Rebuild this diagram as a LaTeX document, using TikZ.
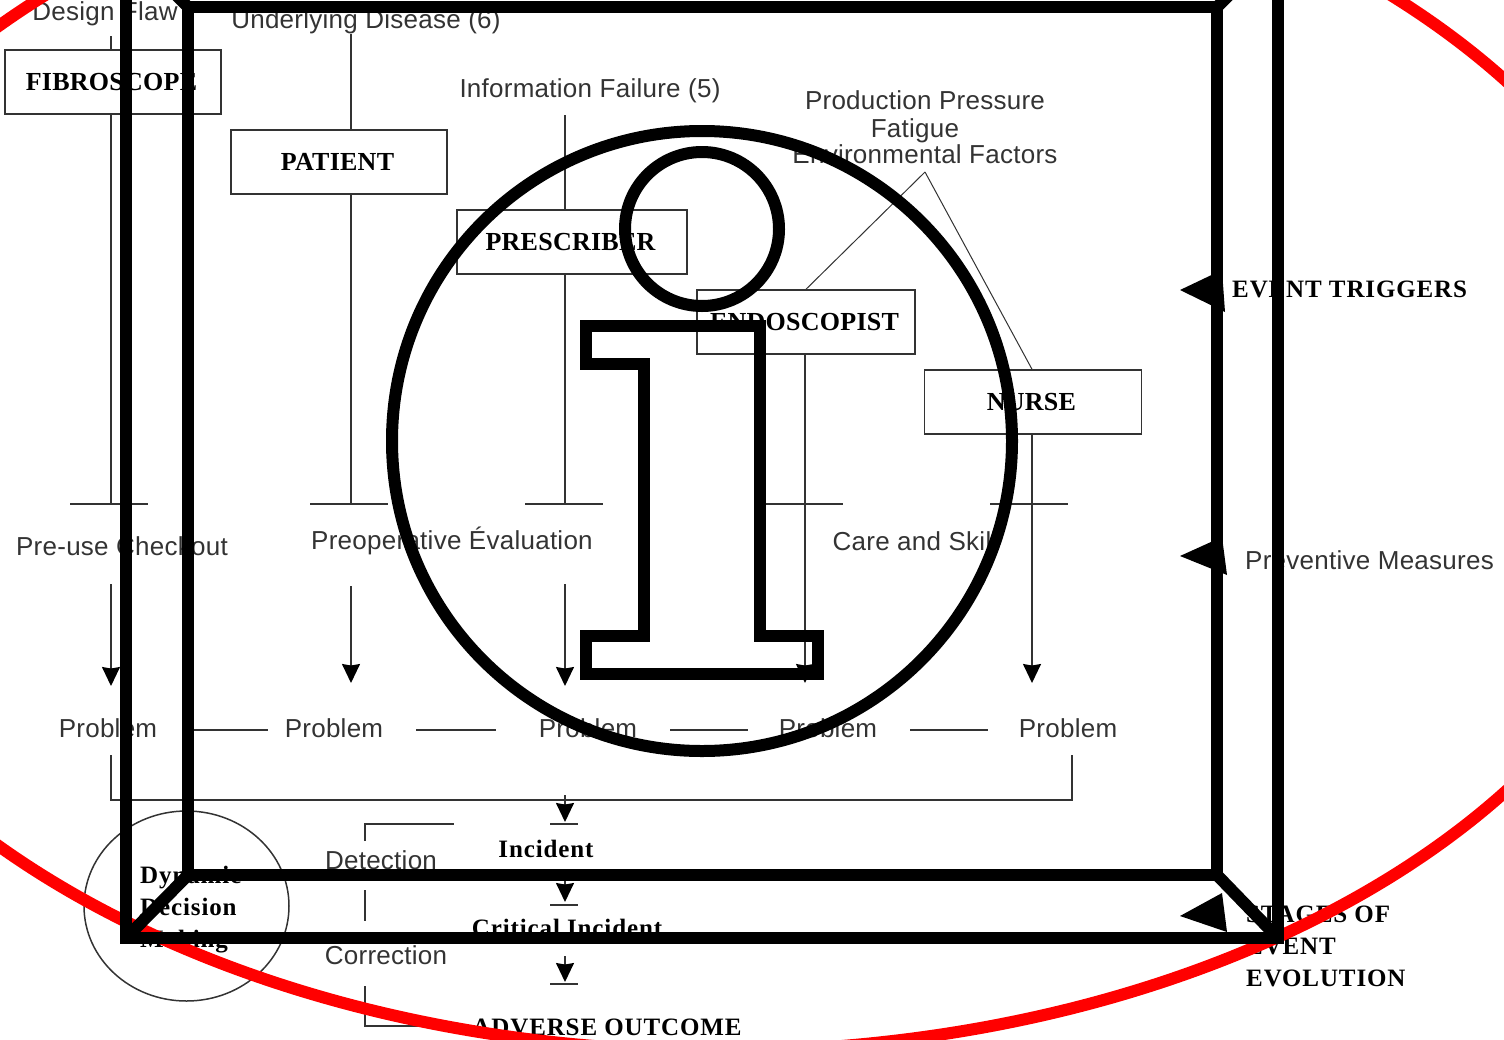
\documentclass[tikz,border=0pt]{standalone}
\usepackage{fontspec}
\setmainfont{Liberation Serif}
\newfontfamily\labelfont[LetterSpace=1]{Liberation Sans}
\newfontfamily\boxfont[LetterSpace=1,BoldFont={Liberation Serif Bold}]{Liberation Serif}
\newfontfamily\stagefont[LetterSpace=3.5,BoldFont={Liberation Serif Bold}]{Liberation Serif}
\usetikzlibrary{arrows.meta,shapes.geometric}
\definecolor{thinink}{gray}{0.2}
\tikzset{
  thin line/.style={draw=thinink, line width=1.5pt},
  stage box/.style={draw=thinink, line width=1.5pt, minimum width=#1, minimum height=64pt, inner sep=0pt, font=\boxfont\fontsize{26}{26}\selectfont\bfseries, execute at end node=\hspace{3pt}},
  plain label/.style={font=\labelfont\fontsize{26}{26}\selectfont, text=thinink, inner sep=0pt},
  bold label/.style={font=\stagefont\fontsize{25}{32}\selectfont\bfseries, inner sep=0pt},
  drop/.style={thin line, -{Stealth[length=19pt,width=18pt,inset=1.5pt,color=black]}},
  big tip/.style={fill=black},
  icon line/.style={line width=12pt, draw=black, miter limit=4},
}
\begin{document}
\begin{tikzpicture}[x=1pt,y=-1pt]
\useasboundingbox (0,0) rectangle (1504,1039);
\clip (0,0) rectangle (1504,1039);

% =========================
% stage boxes
% =========================
\node[stage box=216pt] (fibroscope) at (113,82) {FIBROSCOPE};
\node[stage box=216pt] (patient) at (339,162) {PATIENT};
\node[stage box=230pt] (prescriber) at (572,242) {PRESCRIBER};
\node[stage box=218pt] (endoscopist) at (806,322) {ENDOSCOPIST};
\node[stage box=217pt] (nurse) at (1033,402) {NURSE};

% =========================
% top labels
% =========================
\node[plain label] (flaw) at (105,14) {Design Flaw};
\node[plain label] (disease) at (366,22) {Underlying Disease (6)};
\node[plain label] (failure) at (590,91) {Information Failure (5)};
\node[plain label] (pressure) at (925,100) {Production Pressure};
\node[plain label] (fatigue) at (915,131) {Fatigue};
\node[plain label] (factors) at (925,154) {Environmental Factors};

% =========================
% lines down to the ticks
% =========================
\coordinate (tick a) at (111,504);
\coordinate (tick b) at (351,504);
\coordinate (tick c) at (565,504);
\coordinate (tick d) at (805,504);
\coordinate (tick e) at (1032,504);
\coordinate (flaw end) at (111,36);
\coordinate (disease end) at (351,34);
\coordinate (failure end) at (565,115);
\coordinate (apex) at (925,172);

\draw[thin line] (flaw end) -- (flaw end |- fibroscope.north);
\draw[thin line] (disease end) -- (disease end |- patient.north);
\draw[thin line] (failure end) -- (failure end |- prescriber.north);
\draw[thin line] (fibroscope.south -| tick a) -- (tick a);
\draw[thin line] (patient.south -| tick b) -- (tick b);
\draw[thin line] (prescriber.south -| tick c) -- (tick c);
\draw[thin line] (endoscopist.south -| tick d) -- (tick d);
\draw[thin line] (nurse.south -| tick e) -- (tick e);
\draw[thin line, line width=1pt] (apex) -- (endoscopist.north);
\draw[thin line, line width=1pt] (apex) -- (nurse.north -| tick e);

% ticks
\draw[thin line] (70,504) -- (148,504);
\draw[thin line] (310,504) -- (388,504);
\draw[thin line] (525,504) -- (603,504);
\draw[thin line] (765,504) -- (843,504);
\draw[thin line] (990,504) -- (1068,504);

% =========================
% measures and problems
% =========================
\node[plain label] (checkout) at (122,546) {Pre-use Checkout};
\node[plain label] (evaluation) at (452,541) {Preoperative Évaluation};
\node[plain label] (skill) at (915,541) {Care and Skill};

\node[plain label] (problem a) at (108,728) {Problem};
\node[plain label] (problem b) at (334,728) {Problem};
\node[plain label] (problem c) at (588,728) {Problem};
\node[plain label] (problem d) at (828,728) {Problem};
\node[plain label] (problem e) at (1068,728) {Problem};

\draw[drop] (111,584) -- (111,686);
\draw[drop] (351,586) -- (351,683);
\draw[drop] (565,584) -- (565,686);
\draw[drop] (805,504) -- (805,683);
\draw[drop] (1032,504) -- (1032,683);

\draw[thin line] (193,730) -- (268,730);
\draw[thin line] (416,730) -- (496,730);
\draw[thin line] (670,730) -- (748,730);
\draw[thin line] (910,730) -- (988,730);

% collector
\draw[thin line] (111,755) -- (111,800) -- (1072,800) -- (1072,755);

% =========================
% event stages
% =========================
\node[bold label] (incident) at (546,849) {Incident};
\node[bold label] (critical) at (567,928) {Critical Incident};
\node[bold label] (outcome) at (607,1027) {ADVERSE OUTCOME};

\draw[drop] (565,795) -- (565,822);
\draw[drop] (565,876) -- (565,902);
\draw[drop] (565,956) -- (565,982);
\draw[thin line] (550,824) -- (578,824);
\draw[thin line] (550,905) -- (578,905);
\draw[thin line] (550,984) -- (578,984);

\node[plain label] (detection) at (381,860) {Detection};
\node[plain label] (correction) at (386,955) {Correction};
\draw[thin line] (365,841) -- (365,824) -- (454,824);
\draw[thin line] (365,890) -- (365,921);
\draw[thin line] (365,986) -- (365,1026) -- (470,1026);

\node[thin line, ellipse, minimum width=205pt, minimum height=190pt, inner sep=0pt] (loop) at (186.5,906) {};
\node[bold label, anchor=west, align=left] (dynamic) at (140,910) {Dynamic\\Decision\\Making};

% =========================
% right column
% =========================
\node[bold label, anchor=west] (triggers) at (1232,289) {EVENT TRIGGERS};
\node[plain label, anchor=west] (measures) at (1245,560) {Preventive Measures};
\node[bold label, anchor=west, align=left] (stages) at (1246,946) {STAGES OF\\EVENT\\EVOLUTION};

\fill[big tip] (1180,290) -- (1222,270) -- (1225,312) -- cycle;
\fill[big tip] (1180,556) -- (1222,537) -- (1227,575) -- cycle;
\fill[big tip] (1180,916) -- (1222,893) -- (1227,932) -- cycle;

% =========================
% red ring
% =========================
\draw[red, line width=12pt] (718,436) ellipse (965 and 615);

% =========================
% black box
% =========================
\draw[icon line] (126,-20) -- (126,938) -- (1278,938) -- (1278,-20);
\draw[icon line] (188,7) rectangle (1217,875);
\draw[icon line] (188,875) -- (126,938);
\draw[icon line] (1217,875) -- (1278,938);
\draw[icon line] (188,7) -- (170,-11);
\draw[icon line] (1217,7) -- (1235,-11);

% =========================
% info sign
% =========================
\draw[icon line] (702,441) circle (310);
\draw[icon line] (702,229) circle (77);
\draw[icon line] (586,326) -- (760,326) -- (760,636) -- (818,636) -- (818,674) -- (586,674)
  -- (586,636) -- (644,636) -- (644,364) -- (586,364) -- cycle;

\end{tikzpicture}
\end{document}
